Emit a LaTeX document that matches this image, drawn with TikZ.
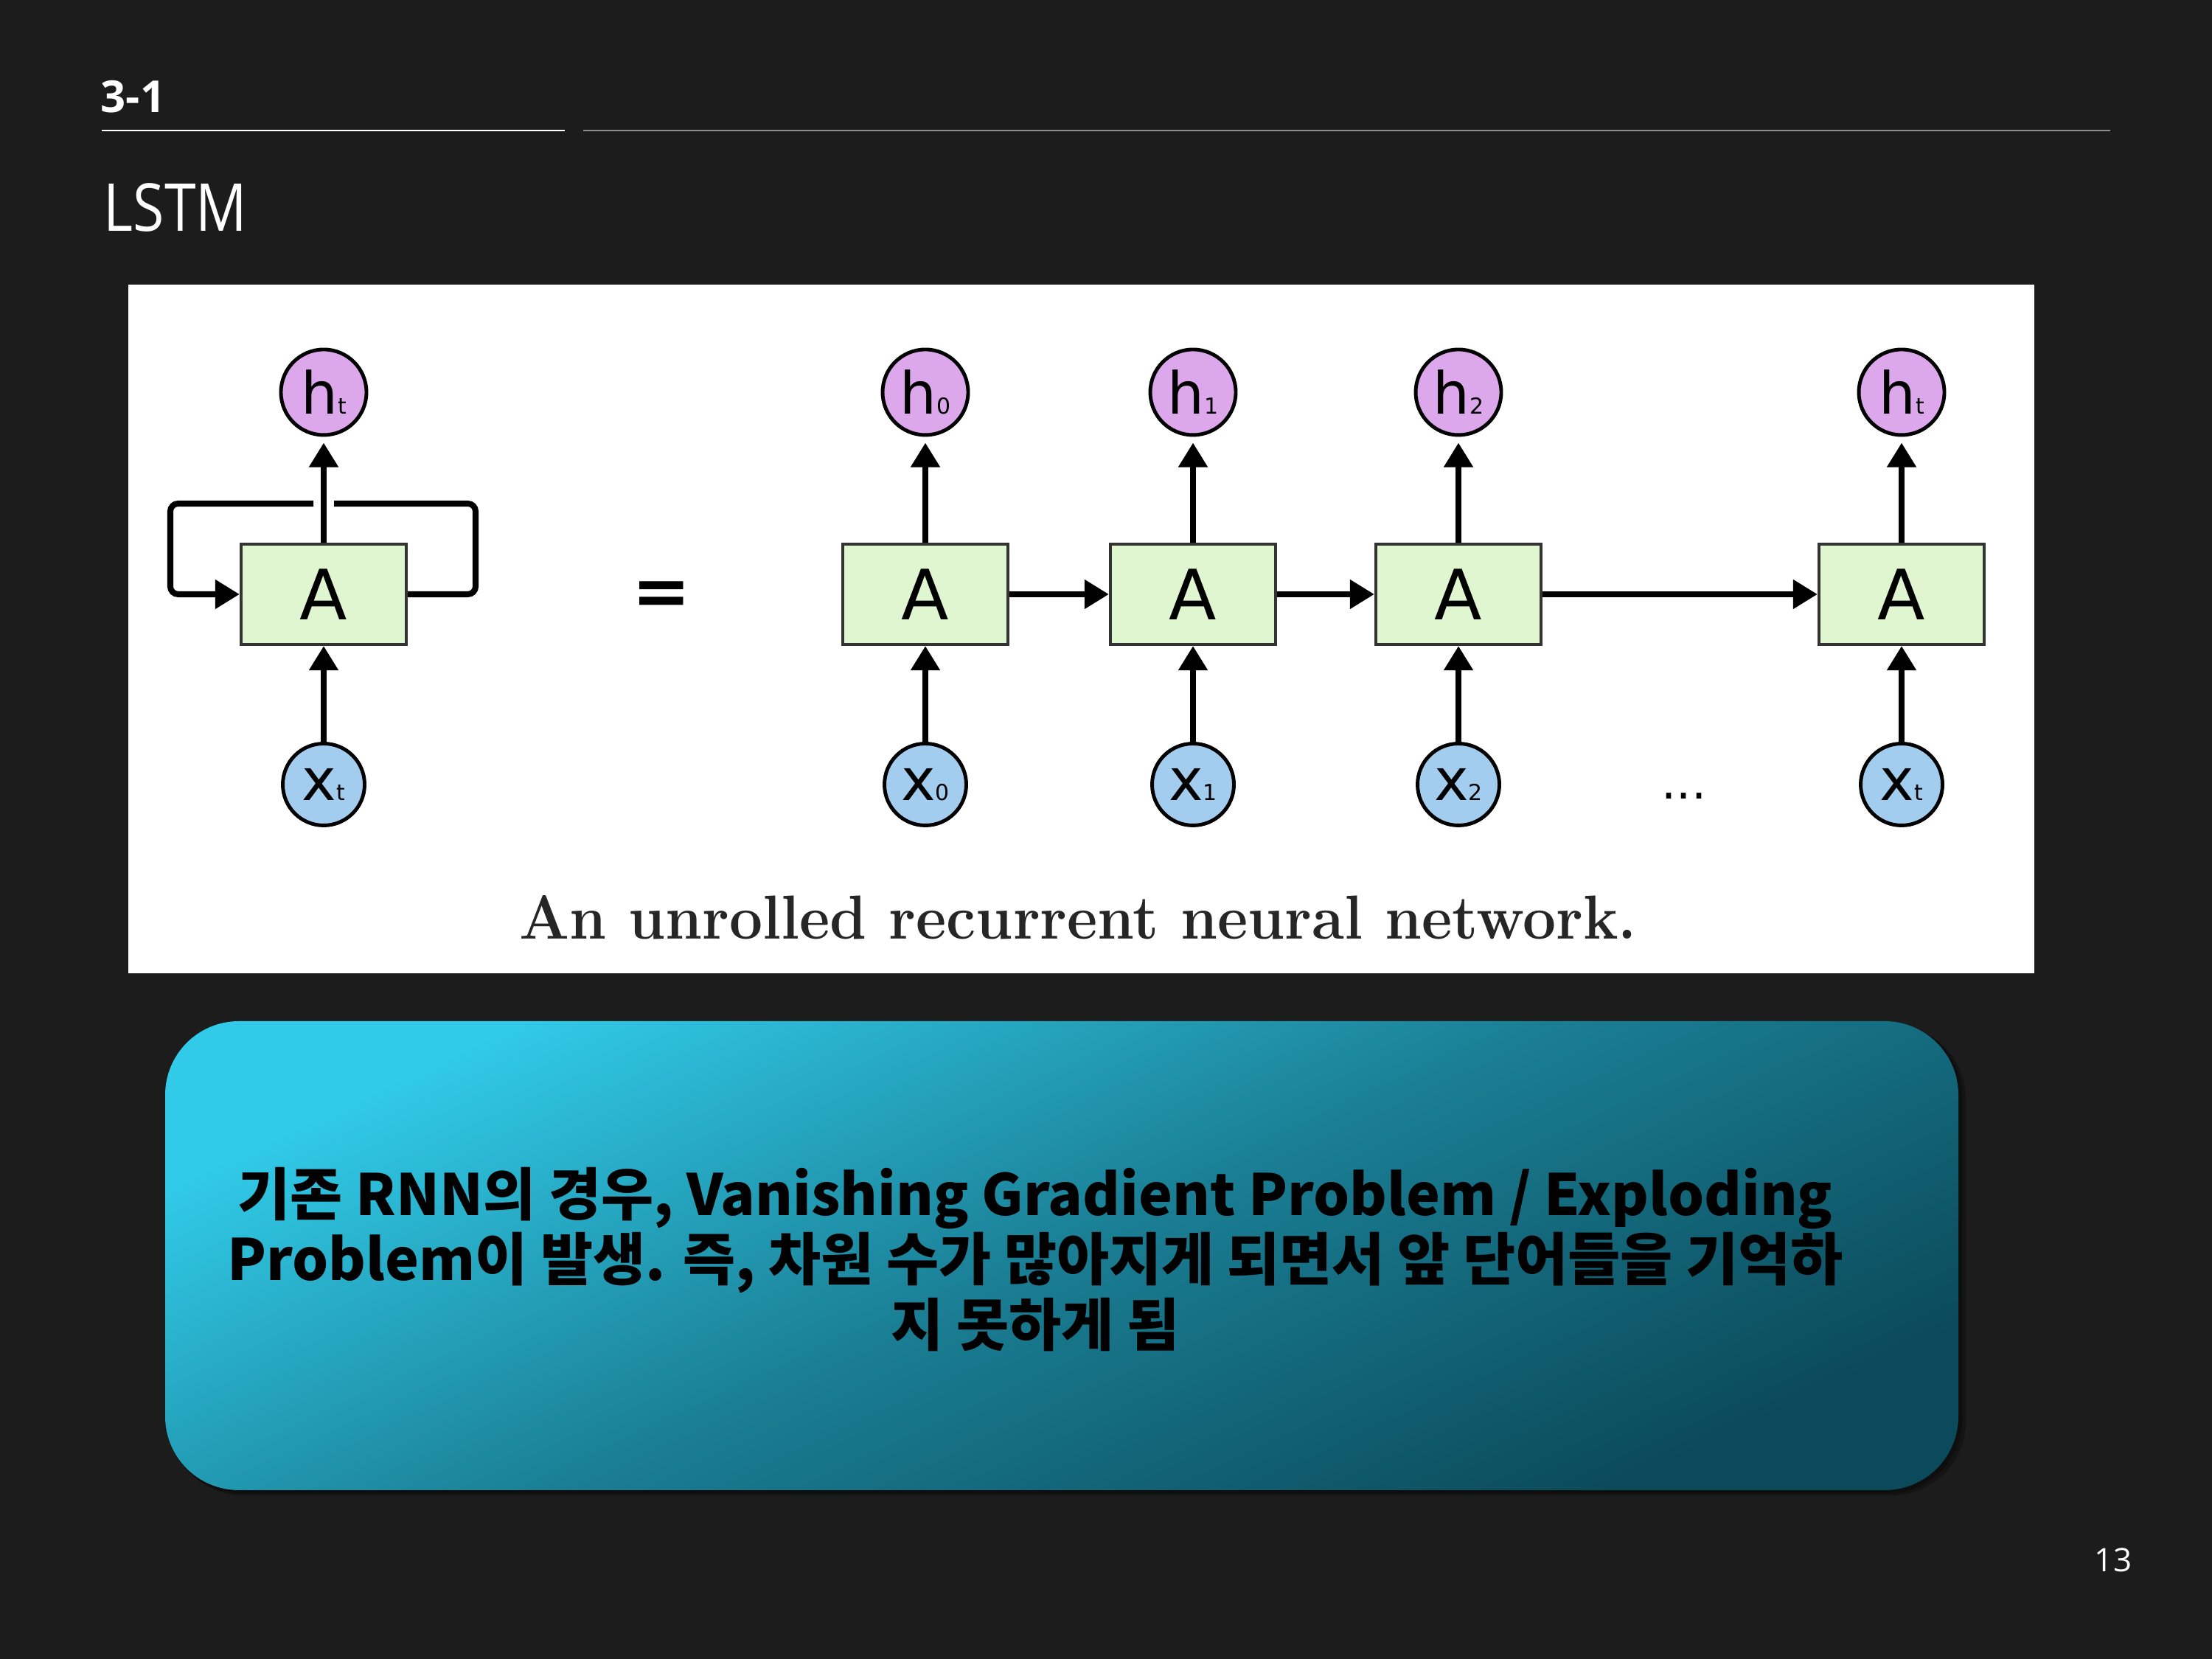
\documentclass[tikz,border=0pt]{standalone}
\usepackage{fontspec}
\usepackage{tikz}
\usetikzlibrary{arrows.meta}

\newfontfamily\krfont{Noto Sans CJK KR}
\newfontfamily\slidefont{Open Sans}
\newfontfamily\diagfont{DejaVu Sans}

\definecolor{slidebg}{HTML}{1C1C1C}
\definecolor{rulegray}{HTML}{8C8C8C}
\definecolor{cellgreen}{HTML}{DFF6D0}
\definecolor{outpurple}{HTML}{DDA8EB}
\definecolor{inblue}{HTML}{A2CDEE}
\definecolor{boxtop}{HTML}{31CBE9}
\definecolor{boxmid}{HTML}{1A7E94}
\definecolor{boxbot}{HTML}{0B4A5A}

\newcommand{\hlab}[1]{{\fontsize{22.4}{22.4}\selectfont h}{\fontsize{8.5}{8.5}\selectfont #1}}
\newcommand{\xlab}[1]{{\fontsize{22.4}{22.4}\selectfont x}{\fontsize{8.5}{8.5}\selectfont #1}}

\begin{document}
\begin{tikzpicture}[
    link/.style={line width=2.3pt, -{Triangle[length=9.4pt,width=10.8pt]}},
    cell/.style={draw=black!80, line width=1.2pt, fill=cellgreen, minimum width=2.24cm, minimum height=1.36cm, inner sep=0pt, font=\diagfont\fontsize{26.8}{26.8}\selectfont},
    hnode/.style={circle, draw, line width=1.4pt, fill=outpurple, minimum size=1.16cm, inner sep=0pt, font=\diagfont},
    xnode/.style={circle, draw, line width=1.4pt, fill=inblue, minimum size=1.11cm, inner sep=0pt, font=\diagfont}]
      \fill[slidebg] (0,0) rectangle (30,22.5);
      \useasboundingbox (0,0) rectangle (30,22.5);

      % header
      \node[anchor=base west, inner sep=0pt, text=white, font=\slidefont\bfseries\fontsize{17}{17}\selectfont] (sec) at (1.36,20.97) {3-1};
      \draw[white, line width=0.6pt] (1.38,20.73) -- (7.66,20.73);
      \draw[rulegray, line width=0.6pt] (7.91,20.73) -- (28.62,20.73);
      \node[anchor=base west, inner sep=0pt, text=white, font=\slidefont\fontsize{25.5}{25.5}\selectfont] (title) at (1.40,19.36) {\scalebox{0.86}[1]{LSTM}};

      % picture panel
      \fill[white] (1.74,9.30) rectangle (27.59,18.64);

      % rolled network
      \node[cell] (Aloop) at (4.39,14.44) {A};
      \node[hnode] (hloop) at (4.39,17.18) {\hlab{t}};
      \node[xnode] (xloop) at (4.39,11.86) {\xlab{t}};
      \coordinate (loopNE) at (6.45,15.67);
      \coordinate (loopNW) at (2.31,15.67);
      \coordinate (gapR) at (4.53,15.67);
      \coordinate (gapL) at (4.25,15.67);

      \draw[line width=2.3pt, rounded corners=3pt] (Aloop.east) -| (loopNE) -- (gapR);
      \draw[link, rounded corners=3pt] (gapL) -- (loopNW) |- (Aloop.west);
      \draw[link, shorten >=2.3pt] (Aloop) -- (hloop);
      \draw[link] (xloop) -- (Aloop);

      \node[font=\diagfont\bfseries\fontsize{27}{27}\selectfont] (eq) at (8.97,14.38) {=};

      % unrolled network
      \node[cell] (A0) at (12.55,14.44) {A};
      \node[cell] (A1) at (16.18,14.44) {A};
      \node[cell] (A2) at (19.78,14.44) {A};
      \node[cell] (At) at (25.79,14.44) {A};

      \node[hnode] (h0) at (12.55,17.18) {\hlab{0}};
      \node[hnode] (h1) at (16.18,17.18) {\hlab{1}};
      \node[hnode] (h2) at (19.78,17.18) {\hlab{2}};
      \node[hnode] (ht) at (25.79,17.18) {\hlab{t}};

      \node[xnode] (x0) at (12.55,11.86) {\xlab{0}};
      \node[xnode] (x1) at (16.18,11.86) {\xlab{1}};
      \node[xnode] (x2) at (19.78,11.86) {\xlab{2}};
      \node[xnode] (xt) at (25.79,11.86) {\xlab{t}};
      \node[font=\diagfont\fontsize{18}{18}\selectfont] (dots) at (22.84,11.70) {...};

      \draw[link, shorten >=2.3pt] (A0) -- (h0);
      \draw[link, shorten >=2.3pt] (A1) -- (h1);
      \draw[link, shorten >=2.3pt] (A2) -- (h2);
      \draw[link, shorten >=2.3pt] (At) -- (ht);
      \draw[link] (x0) -- (A0);
      \draw[link] (x1) -- (A1);
      \draw[link] (x2) -- (A2);
      \draw[link] (xt) -- (At);
      \draw[link] (A0) -- (A1);
      \draw[link] (A1) -- (A2);
      \draw[link] (A2) -- (At);

      \node[anchor=base, inner sep=0pt, text=black!85, font=\bfseries\fontsize{24}{24}\selectfont] (caption) at (14.62,9.76) {\scalebox{0.95}[1]{An unrolled recurrent neural network.}};

      % note box
      \fill[black, opacity=0.25, rounded corners=1cm] (2.30,2.22) rectangle (26.66,8.60);
      \fill[black, opacity=0.25, rounded corners=1cm] (2.26,2.25) rectangle (26.61,8.62);
      \shade[rounded corners=1cm, left color=boxtop, right color=boxbot, middle color=boxmid, shading angle=25] (2.24,2.29) rectangle (26.56,8.65);
      \node[align=center, text=black, font=\krfont\bfseries\fontsize{22}{25.2}\selectfont] (note) at (14.04,5.42) {기존 RNN의 경우, Vanishing Gradient Problem / Exploding\\Problem이 발생. 즉, 차원 수가 많아지게 되면서 앞 단어들을 기억하\\지 못하게 됨};

      \node[text=white, font=\slidefont\fontsize{12.5}{12.5}\selectfont] (pagenum) at (28.66,1.34) {13};
    \end{tikzpicture}
\end{document}
